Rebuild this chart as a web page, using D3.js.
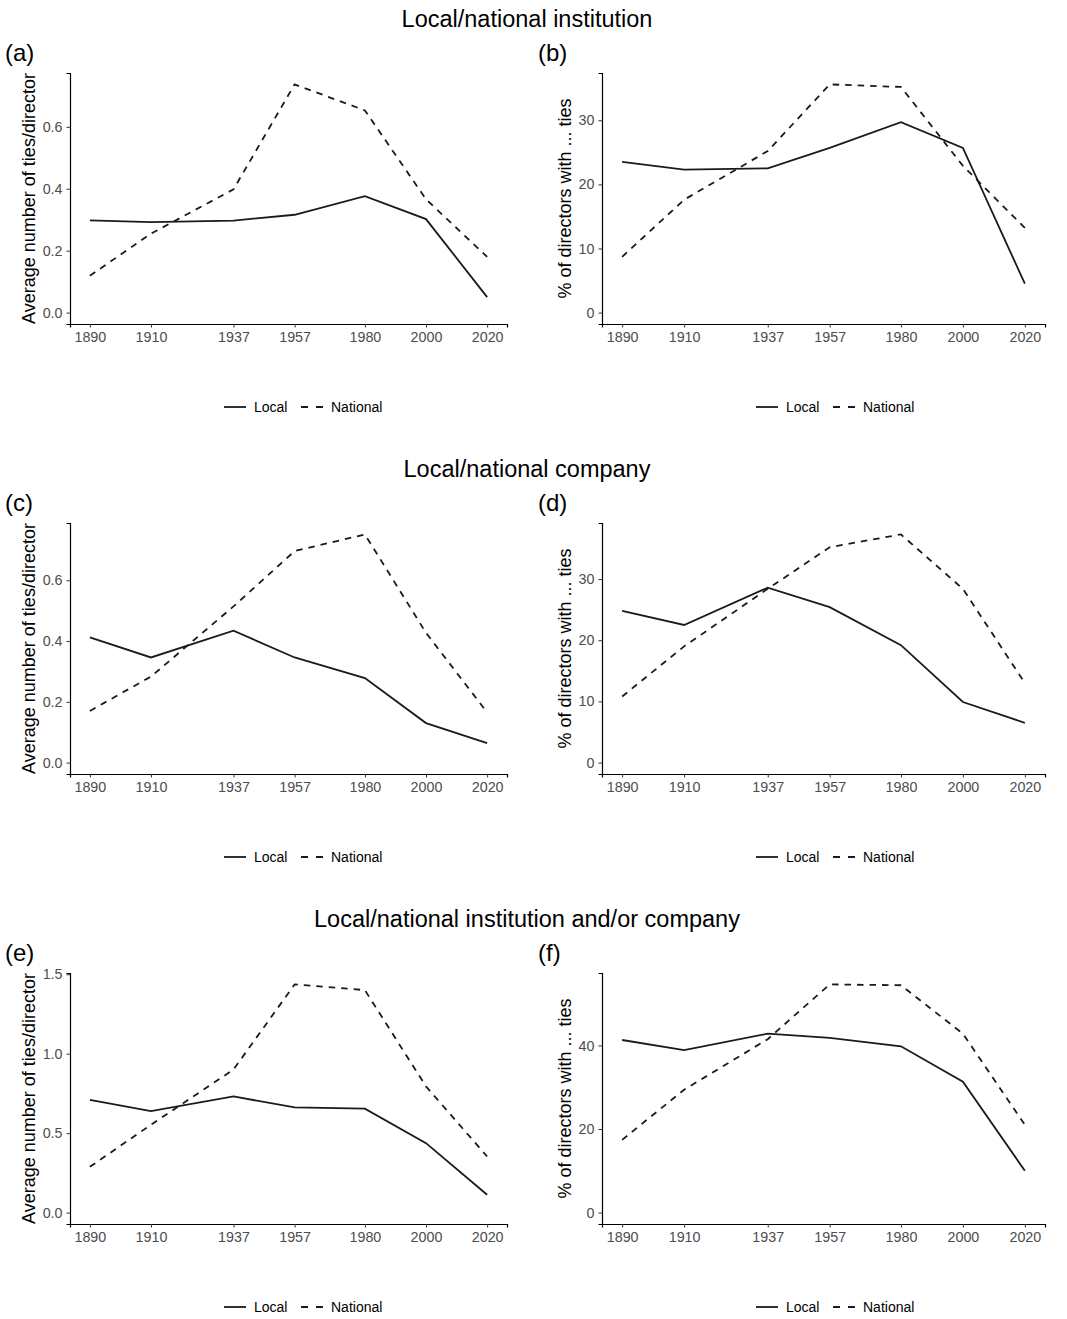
<!DOCTYPE html>
<html>
<head>
<meta charset="utf-8">
<script src="https://cdn.jsdelivr.net/npm/d3@7"></script>
<style>
  body { margin: 0; background: #fff; }
  text { font-family: "Liberation Sans", Arial, sans-serif; }
</style>
</head>
<body>
<script>
// years on the x axis
var years = [1890, 1910, 1937, 1957, 1980, 2000, 2020];

// row titles and panel labels
var rowTitles = ["Local/national institution", "Local/national company", "Local/national institution and/or company"];
var panelLabels = ["(a)", "(b)", "(c)", "(d)", "(e)", "(f)"];
var yTitles = ["Average number of ties/director", "% of directors with ... ties"];

// series values
var localA = [0.298, 0.292, 0.297, 0.316, 0.376, 0.302, 0.05];
var nationalA = [0.119, 0.255, 0.398, 0.737, 0.653, 0.366, 0.18];
var localB = [23.5, 22.3, 22.5, 25.7, 29.7, 25.7, 4.5];
var nationalB = [8.7, 17.6, 25.2, 35.6, 35.2, 22.9, 13.2];
var localC = [0.412, 0.346, 0.434, 0.346, 0.278, 0.130, 0.064];
var nationalC = [0.170, 0.283, 0.514, 0.696, 0.751, 0.427, 0.165];
var localD = [24.8, 22.5, 28.6, 25.4, 19.2, 9.9, 6.5];
var nationalD = [10.8, 19.0, 28.4, 35.2, 37.3, 28.4, 13.0];
var localE = [0.709, 0.639, 0.731, 0.662, 0.654, 0.437, 0.112];
var nationalE = [0.288, 0.553, 0.90, 1.436, 1.40, 0.794, 0.353];
var localF = [41.3, 38.9, 42.8, 41.8, 39.8, 31.3, 10.0];
var nationalF = [17.4, 29.4, 41.5, 54.6, 54.4, 42.8, 21.0];

// y tick values per panel
var ticksAvg = [0, 0.2, 0.4, 0.6];
var ticksPct = [0, 10, 20, 30];
var ticksAvgE = [0, 0.5, 1.0, 1.5];
var ticksPctF = [0, 20, 40];

var seriesNames = ["Local", "National"];

var panels = [
  { local: localA, national: nationalA, ticks: ticksAvg, fmt: ".1f" },
  { local: localB, national: nationalB, ticks: ticksPct, fmt: "d" },
  { local: localC, national: nationalC, ticks: ticksAvg, fmt: ".1f" },
  { local: localD, national: nationalD, ticks: ticksPct, fmt: "d" },
  { local: localE, national: nationalE, ticks: ticksAvgE, fmt: ".1f" },
  { local: localF, national: nationalF, ticks: ticksPctF, fmt: "d" }
];

var width = 1067, height = 1319;
var svg = d3.select("body").append("svg")
  .attr("width", width)
  .attr("height", height);

var rowH = 450;
var plotTop = 73, plotBottom = 324;
var colLeft = [70, 602], colRight = [507, 1045];
var titleGap = [35, 31];
var dash = "6.5,6";

// row titles
svg.selectAll(".rowtitle")
  .data(rowTitles)
  .enter().append("text")
  .attr("class", "rowtitle")
  .attr("x", 527)
  .attr("y", function(d, i){ return i * rowH + 26.5; })
  .attr("text-anchor", "middle")
  .style("font-size", "23.5px")
  .text(function(d){ return d; });

panels.forEach(function(p, k){
  var row = Math.floor(k / 2), col = k % 2;
  var oy = row * rowH;
  var x0 = colLeft[col], x1 = colRight[col];

  var g = svg.append("g").attr("transform", "translate(0," + oy + ")");

  // x scale with ggplot-like 5% expansion
  var xr = 2020 - 1890;
  var x = d3.scaleLinear()
    .domain([1890 - xr * 0.05, 2020 + xr * 0.05])
    .range([x0, x1]);

  var ymax = d3.max(p.local.concat(p.national));
  var y = d3.scaleLinear()
    .domain([-ymax * 0.05, ymax * 1.05])
    .range([plotBottom, plotTop]);

  // panel label
  g.append("text")
    .attr("x", col === 0 ? 5 : 538)
    .attr("y", 61)
    .style("font-size", "24px")
    .text(panelLabels[k]);

  // axes
  var xAxis = d3.axisBottom(x).tickValues(years).tickFormat(d3.format("d")).tickSizeOuter(0).tickSize(3.5).tickPadding(4);
  var yAxis = d3.axisLeft(y).tickValues(p.ticks).tickFormat(d3.format(p.fmt)).tickSizeOuter(0).tickSize(3.5).tickPadding(4);

  var gx = g.append("g").attr("transform", "translate(0," + plotBottom + ")").call(xAxis);
  var gy = g.append("g").attr("transform", "translate(" + x0 + ",0)").call(yAxis);
  [gx, gy].forEach(function(a){
    a.select(".domain").attr("stroke", "#000").attr("stroke-width", 1.2);
    a.selectAll(".tick line").attr("stroke", "#333").attr("stroke-width", 1);
    a.selectAll(".tick text").attr("fill", "#4d4d4d").style("font-size", "14.3px")
      .style("font-family", "'Liberation Sans', Arial, sans-serif");
  });

  // y axis title
  g.append("text")
    .attr("transform", "translate(" + (x0 - titleGap[col]) + "," + ((plotTop + plotBottom) / 2) + ") rotate(-90)")
    .attr("text-anchor", "middle")
    .style("font-size", "18px")
    .text(yTitles[col]);

  // lines
  var line = d3.line()
    .x(function(d, i){ return x(years[i]); })
    .y(function(d){ return y(d); });

  g.append("path")
    .datum(p.local)
    .attr("fill", "none")
    .attr("stroke", "#1a1a1a")
    .attr("stroke-width", 1.8)
    .attr("d", line);

  g.append("path")
    .datum(p.national)
    .attr("fill", "none")
    .attr("stroke", "#1a1a1a")
    .attr("stroke-width", 1.8)
    .attr("stroke-dasharray", dash)
    .attr("d", line);

  // legend
  var lx = x0 + 154, ly = 407;
  var leg = g.append("g");
  leg.append("line").attr("x1", lx).attr("x2", lx + 22).attr("y1", ly).attr("y2", ly)
    .attr("stroke", "#1a1a1a").attr("stroke-width", 1.8);
  leg.append("text").attr("x", lx + 30).attr("y", ly + 5).style("font-size", "14px").text(seriesNames[0]);
  leg.append("line").attr("x1", lx + 77).attr("x2", lx + 99).attr("y1", ly).attr("y2", ly)
    .attr("stroke", "#1a1a1a").attr("stroke-width", 1.8).attr("stroke-dasharray", "7,8");
  leg.append("text").attr("x", lx + 107).attr("y", ly + 5).style("font-size", "14px").text(seriesNames[1]);
});
</script>
</body>
</html>
